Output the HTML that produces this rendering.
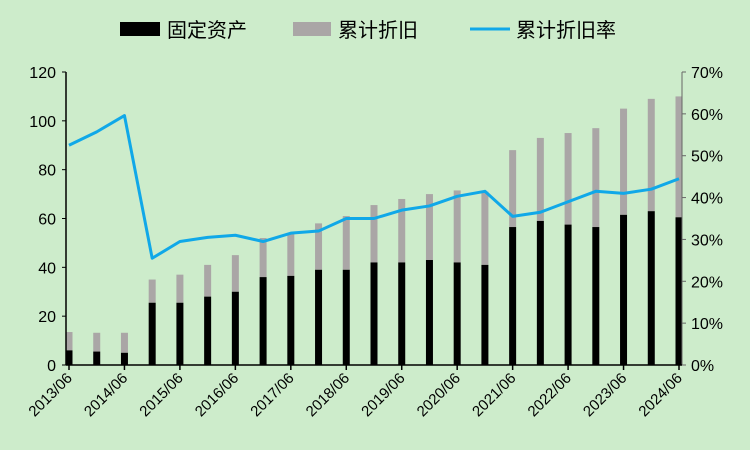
<!DOCTYPE html>
<html><head><meta charset="utf-8"><style>
body{margin:0;background:#cdeccb;}
svg{display:block;font-family:"Liberation Sans","Noto Sans CJK SC",sans-serif;}
</style></head><body>
<svg id="c" width="750" height="450">
<rect width="750" height="450" fill="#cdeccb"/>
<g>
<rect x="120" y="22" width="40" height="14" fill="#000"/>
<text x="167" y="37" font-size="20">固定资产</text>
<rect x="293" y="22" width="38" height="14" fill="#aaa6a6"/>
<text x="338" y="37" font-size="20">累计折旧</text>
<line x1="470" y1="29" x2="510" y2="29" stroke="#10a8e8" stroke-width="3"/>
<text x="516" y="37" font-size="20">累计折旧率</text>
</g>
<g id="plot"></g>
</svg>
<script>
const categories=["2013/06","2013/12","2014/06","2014/12","2015/06","2015/12","2016/06","2016/12","2017/06","2017/12","2018/06","2018/12","2019/06","2019/12","2020/06","2020/12","2021/06","2021/12","2022/06","2022/12","2023/06","2023/12","2024/06"];
const fixedAssets=[6,5.5,5,25.5,25.5,28,30,36,36.5,39,39,42,42,43,42,41,56.5,59,57.5,56.5,61.5,63,60.5];
const totals=[13.5,13.2,13.2,35,37,41,45,52,54,58,61,65.5,68,70,71.5,71,88,93,95,97,105,109,110];
const rates=[52.5,55.7,59.6,25.5,29.5,30.5,31,29.5,31.5,32,35,35,37,38,40.3,41.5,35.5,36.5,39,41.5,41,42,44.5];
const leftTicks=[0,20,40,60,80,100,120];
const rightTicks=[0,10,20,30,40,50,60,70];
const NS="http://www.w3.org/2000/svg";
const g=document.getElementById("plot");
const X0=69,X1=679,YT=72,YB=365,AXL=66,AXR=682;
const x=i=>X0+(X1-X0)*i/(categories.length-1);
const yL=v=>YB-(YB-YT)*v/120;
const yR=v=>YB-(YB-YT)*v/70;
function mk(tag,attrs){const e=document.createElementNS(NS,tag);for(const k in attrs)e.setAttribute(k,attrs[k]);g.appendChild(e);return e;}
categories.forEach((c,i)=>{
  const r=mk("rect",{x:x(i)-3.5,y:yL(totals[i]),width:7,height:yL(fixedAssets[i])-yL(totals[i]),fill:"#aaa6a6"});
  
  
  const b=mk("rect",{x:x(i)-3.5,y:yL(fixedAssets[i]),width:7,height:YB-yL(fixedAssets[i]),fill:"#000"});
  
  
});
const pl=mk("polyline",{points:rates.map((v,i)=>x(i)+","+yR(v)).join(" "),fill:"none",stroke:"#10a8e8","stroke-width":3,"stroke-linejoin":"round"});


const la=mk("line",{x1:AXL,y1:YT,x2:AXL,y2:YB,stroke:"#000","stroke-width":1.5});


const ra=mk("line",{x1:AXR,y1:YT,x2:AXR,y2:YB,stroke:"#666","stroke-width":1});


const xa=mk("line",{x1:AXL,y1:YB,x2:AXR,y2:YB,stroke:"#000","stroke-width":1.5});


leftTicks.forEach(v=>{
  mk("line",{x1:AXL-4,y1:yL(v),x2:AXL,y2:yL(v),stroke:"#000"});
  const t=mk("text",{x:AXL-10,y:yL(v)+6,"font-size":16,"text-anchor":"end"});
  t.textContent=v;
  
  
});
rightTicks.forEach(v=>{
  mk("line",{x1:AXR,y1:yR(v),x2:AXR+4,y2:yR(v),stroke:"#666"});
  const t=mk("text",{x:AXR+9,y:yR(v)+6,"font-size":16});
  t.textContent=v+"%";
  
  
});
categories.forEach((c,i)=>{
  if(i%2)return;
  mk("line",{x1:x(i),y1:YB,x2:x(i),y2:YB+5,stroke:"#000","stroke-width":1.5});
  const t=mk("text",{x:x(i)+4,y:YB+14,"font-size":15,"text-anchor":"end",transform:"rotate(-45 "+(x(i)+4)+" "+(YB+14)+")"});
  t.textContent=c;
  
  
});
</script>
</body></html>
